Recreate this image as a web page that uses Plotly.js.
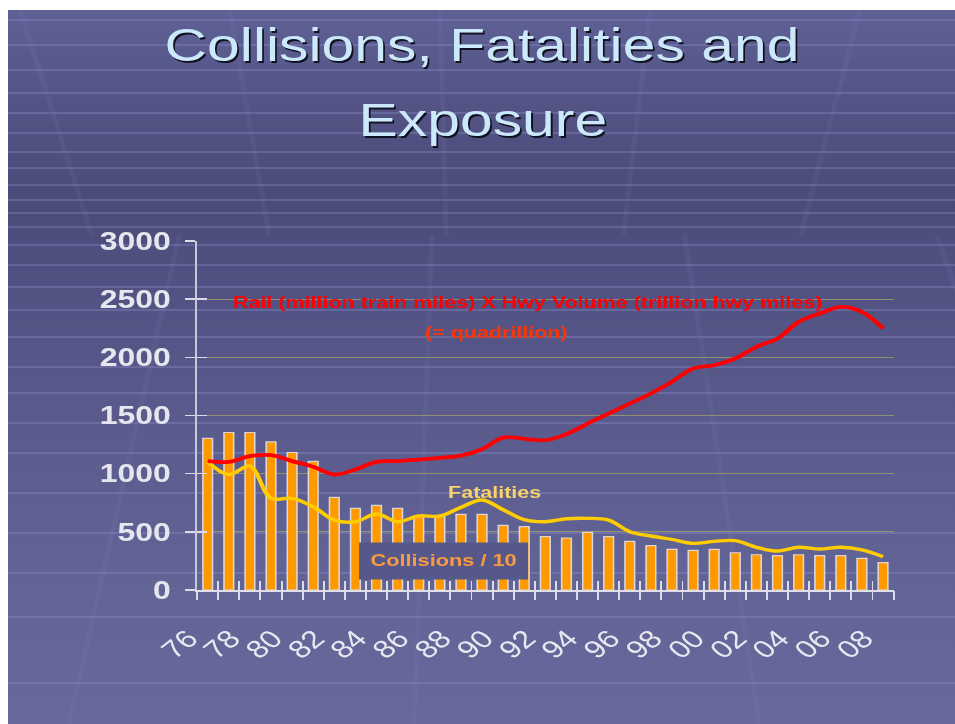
<!DOCTYPE html>
<html><head><meta charset="utf-8">
<script src="https://cdn.plot.ly/plotly-3.0.1.min.js"></script>
<style>
html,body{margin:0;padding:0;background:#fff;width:955px;height:724px;overflow:hidden;}
#bg{position:absolute;left:0;top:0;}
#chart{position:absolute;left:0;top:0;width:746px;height:724px;transform:scaleX(1.2802);transform-origin:0 0;}
</style></head><body>
<canvas id="bg" width="955" height="724"></canvas>
<div id="chart"></div>
<script>
// ---- data ----
const years = [1976,1977,1978,1979,1980,1981,1982,1983,1984,1985,1986,1987,1988,1989,1990,1991,1992,
               1993,1994,1995,1996,1997,1998,1999,2000,2001,2002,2003,2004,2005,2006,2007,2008];
const tickYears = [1976,1978,1980,1982,1984,1986,1988,1990,1992,1994,1996,1998,2000,2002,2004,2006,2008];
const tickLabels = ['76','78','80','82','84','86','88','90','92','94','96','98','00','02','04','06','08'];
const collisionsDiv10 = [1303,1354,1354,1274,1182,1105,796,702,727,702,638,638,650,650,556,544,458,
                         447,495,458,418,381,350,341,350,320,303,295,303,295,295,272,235];
const fatalities = [1102,992,1065,788,788,716,601,587,653,587,636,636,710,773,690,605,587,
                    612,616,601,501,464,435,401,418,424,367,335,367,352,367,344,286];
const exposure = [1108,1102,1151,1159,1108,1059,993,1036,1102,1108,1120,1135,1155,1210,1310,1300,1288,
                  1340,1431,1517,1603,1689,1790,1904,1932,1990,2090,2162,2305,2377,2434,2391,2248];
const yTicks = [0,500,1000,1500,2000,2500,3000];

// ---- decorative slide background ----
(function(){
  const c = document.getElementById('bg'), ctx = c.getContext('2d');
  ctx.fillStyle = '#ffffff'; ctx.fillRect(0,0,955,724);
  const g = ctx.createLinearGradient(0,10,0,724);
  g.addColorStop(0.00,'#5f6094');
  g.addColorStop(0.13,'#535485');
  g.addColorStop(0.27,'#4a4b77');
  g.addColorStop(0.35,'#4f5080');
  g.addColorStop(0.55,'#595a8b');
  g.addColorStop(0.77,'#626395');
  g.addColorStop(1.00,'#67689b');
  ctx.fillStyle = g; ctx.fillRect(8,10,947,714);
  ctx.save();
  ctx.beginPath(); ctx.rect(8,10,947,714); ctx.clip();
  const hl = [20,45,70,93,113,133,152,168,185,200,213,227,245,265,287,310,337,367,393,423,453,493,533,573,617,683];
  ctx.strokeStyle = 'rgba(150,150,215,0.30)'; ctx.lineWidth = 2;
  hl.forEach(y => { ctx.beginPath(); ctx.moveTo(8,y); ctx.lineTo(955,y); ctx.stroke(); });
  ctx.strokeStyle = 'rgba(130,130,190,0.12)'; ctx.lineWidth = 5;
  for (let x0 = -400; x0 <= 1400; x0 += 210) {
    ctx.beginPath(); ctx.moveTo(x0,10);
    const t1 = (235-10)/(1450-10);
    ctx.lineTo(x0 + (480-x0)*t1, 235); ctx.stroke();
    ctx.beginPath();
    const xa = 480 + (x0-480)*((235+1100)/(10+1100));
    ctx.moveTo(xa,235);
    ctx.lineTo(480 + (x0-480)*((724+1100)/(10+1100)), 724); ctx.stroke();
  }
  ctx.restore();
})();

// ---- chart ----
const boundaries = years.map(y => y - 0.5).concat([years[years.length-1] + 0.5]);
const xr = [years[0]-0.5, years[years.length-1]+0.5];
const tickCol = '#dcdce8';
const sans = "'Liberation Sans', Arial, sans-serif";

const traces = [
  {type:'bar', x:years, y:collisionsDiv10, width:0.46, hoverinfo:'skip',
   marker:{color:'#ff9900', line:{color:'rgba(230,230,240,0.85)', width:1.2}}},
  {type:'scatter', mode:'lines', x:years, y:fatalities, hoverinfo:'skip',
   line:{color:'#ffcc00', width:3.4, shape:'spline', smoothing:1}},
  {type:'scatter', mode:'lines', x:years, y:exposure, hoverinfo:'skip',
   line:{color:'#ff0000', width:3.8, shape:'spline', smoothing:1}},
  {type:'scatter', mode:'lines', x:[], y:[], xaxis:'x2', yaxis:'y', hoverinfo:'skip'},
  {type:'scatter', mode:'lines', x:[], y:[], xaxis:'x3', yaxis:'y', hoverinfo:'skip'},
  {type:'scatter', mode:'lines', x:[], y:[], xaxis:'x', yaxis:'y2', hoverinfo:'skip'}
];

const layout = {
  width:746, height:724,
  paper_bgcolor:'rgba(0,0,0,0)', plot_bgcolor:'rgba(0,0,0,0)',
  margin:{l:154, r:48, t:241, b:134},
  showlegend:false,
  bargap:0.54,
  title:{text:'Collisions, Fatalities and', xref:'container', yref:'container',
         x:0.5047, y:0.938, xanchor:'center', yanchor:'middle',
         font:{family:sans, size:46, color:'#cce9fb', shadow:'1.6px 2px 0px #111122'}},
  xaxis:{range:xr, autorange:false, tickmode:'array', tickvals:tickYears, ticktext:tickLabels,
         tickangle:-45, ticks:'', showgrid:false, zeroline:false,
         showline:true, linecolor:'#e0e0ea', linewidth:2,
         ticklabelshift:-15, ticklabelstandoff:22,
         tickfont:{family:sans, size:25, color:'#e8e8f0'}},
  xaxis2:{overlaying:'x', anchor:'y', side:'bottom', range:xr, autorange:false,
          tickmode:'array', tickvals:boundaries, showticklabels:false,
          ticks:'outside', ticklen:9, tickwidth:1.5, tickcolor:tickCol,
          showgrid:false, zeroline:false, showline:false},
  xaxis3:{overlaying:'x', anchor:'y', side:'bottom', range:xr, autorange:false,
          tickmode:'array', tickvals:boundaries, showticklabels:false,
          ticks:'inside', ticklen:9, tickwidth:1.5, tickcolor:tickCol,
          showgrid:false, zeroline:false, showline:false},
  yaxis:{range:[0,3000], autorange:false, tickmode:'array', tickvals:yTicks,
         ticks:'outside', ticklen:8, tickwidth:1.5, tickcolor:tickCol,
         showgrid:true, gridcolor:'rgba(150,150,105,0.9)', gridwidth:1,
         zeroline:false, showline:true, linecolor:'#c8c8d8', linewidth:1.5,
         ticklabelstandoff:6,
         tickfont:{family:sans, size:25, weight:700, color:'#e6e6ee'}},
  yaxis2:{overlaying:'y', anchor:'x', side:'left', range:[0,3000], autorange:false,
          tickmode:'array', tickvals:yTicks, showticklabels:false,
          ticks:'inside', ticklen:8, tickwidth:1.5, tickcolor:tickCol,
          showgrid:false, zeroline:false, showline:false},
  annotations:[
    {text:'Exposure', xref:'paper', yref:'paper', x:0.4091, y:1.3467, xanchor:'center', yanchor:'middle',
     showarrow:false,
     font:{family:sans, size:46, color:'#cce9fb', shadow:'1.6px 2px 0px #111122'}},
    {text:'Rail (million train miles) X Hwy Volume (trillion hwy miles)', xref:'paper', yref:'paper',
     x:0.4737, y:0.8238, xanchor:'center', yanchor:'middle', showarrow:false,
     font:{family:sans, size:16.8, weight:700, color:'#ff0000'}},
    {text:'(= quadrillion)', xref:'paper', yref:'paper',
     x:0.4285, y:0.7364, xanchor:'center', yanchor:'middle', showarrow:false,
     font:{family:sans, size:16.8, weight:700, color:'#ff3300'}},
    {text:'Fatalities', xref:'paper', yref:'paper',
     x:0.4278, y:0.2785, xanchor:'center', yanchor:'middle', showarrow:false,
     font:{family:sans, size:16.8, weight:700, color:'#f8d36a'}},
    {text:'Collisions / 10', xref:'paper', yref:'paper',
     x:0.3547, y:0.0831, xanchor:'center', yanchor:'middle', showarrow:false,
     width:131, height:36, borderpad:0, bgcolor:'#57588a', align:'center', valign:'middle',
     font:{family:sans, size:17, weight:700, color:'#f99a40'}}
  ]
};

Plotly.newPlot('chart', traces, layout, {staticPlot:true, displayModeBar:false});
</script>
</body></html>
